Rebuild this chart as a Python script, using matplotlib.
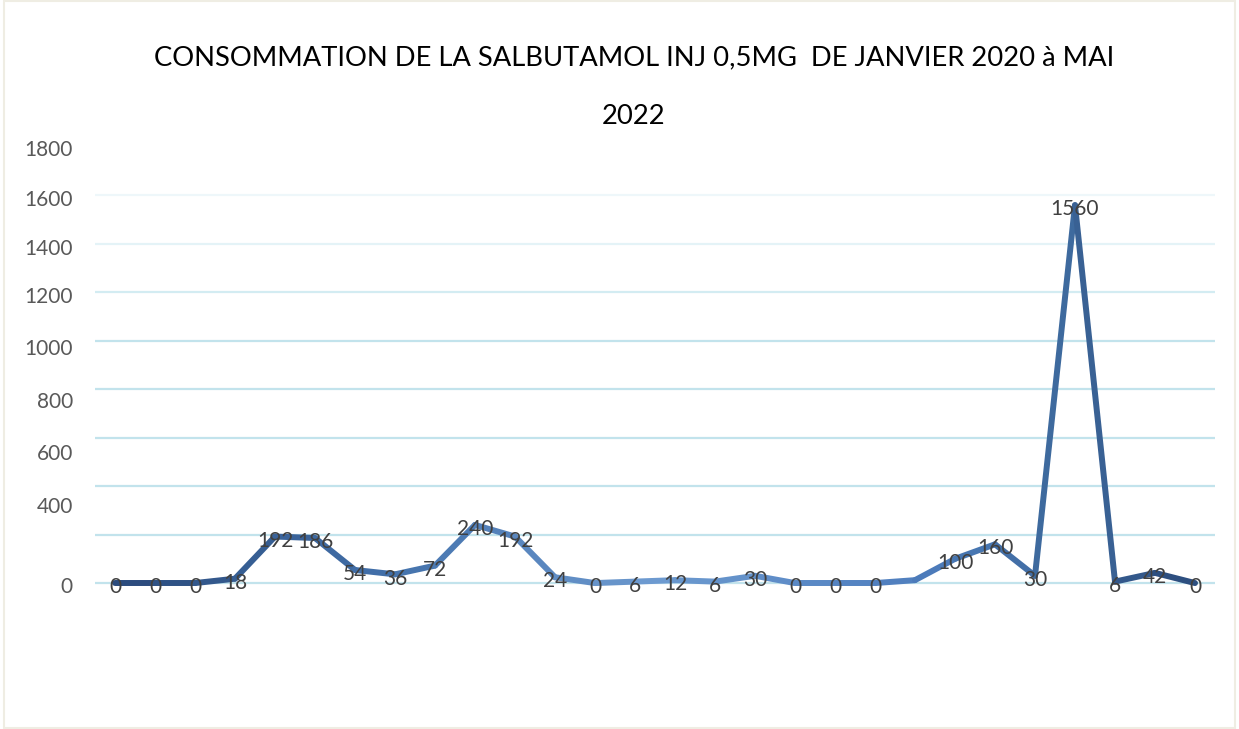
import numpy as np
import matplotlib.pyplot as plt
from matplotlib.collections import LineCollection
from matplotlib.colors import LinearSegmentedColormap
from matplotlib.patches import Rectangle

# données (janvier 2020 -> mai 2022)
valeurs = [0, 0, 0, 18, 192, 186, 54, 36, 72, 240, 192, 24, 0, 6, 12, 6, 30,
           0, 0, 0, 12, 100, 160, 30, 1560, 6, 42, 0]
etiquettes = ['0', '0', '0', '18', '192', '186', '54', '36', '72', '240', '192', '24',
              '0', '6', '12', '6', '30', '0', '0', '0', '', '100', '160', '30',
              '1560', '6', '42', '0']
grille = [0, 200, 400, 600, 800, 1000, 1200, 1400, 1600]
ytick_texte = ['0', '400', '600', '800', '1000', '1200', '1400', '1600', '1800']
titre = "CONSOMMATION DE LA SALBUTAMOL INJ 0,5MG  DE JANVIER 2020 à MAI\n\n2022"

plt.rcParams['font.family'] = ['Lato', 'DejaVu Sans']

fig = plt.figure(figsize=(12.39, 7.29), dpi=100)
ax = fig.add_axes([95 / 1239, 1 - 585 / 729, 1120 / 1239, 438 / 729])

x = np.arange(len(valeurs))
y = np.array(valeurs, dtype=float)

# lignes de grille (plus pâles en haut)
couleurs_grille = ['#C2E3EC'] * 6 + ['#D3ECF2', '#E4F3F7', '#EEF7FA']
for g, c in zip(grille, couleurs_grille):
    ax.axhline(g, color=c, lw=1.6, zorder=0)

# ligne avec dégradé de bleu
cmap = LinearSegmentedColormap.from_list('bleus', [
    (0.0, '#2A4A7B'), (0.25, '#4270AA'), (0.5, '#6D9AD0'),
    (0.75, '#4D7DBD'), (0.88, '#3D689C'), (1.0, '#2B4B7C')])
pts = np.column_stack([x, y]).reshape(-1, 1, 2)
segs = np.concatenate([pts[:-1], pts[1:]], axis=1)
t = (x[:-1] + 0.5) / (len(x) - 1)
lc = LineCollection(segs, colors=cmap(t), linewidths=4.3, capstyle='round',
                    joinstyle='round', clip_on=False, zorder=2)
ax.add_collection(lc)

# étiquettes de données
for xi, yi, lab in zip(x, y, etiquettes):
    ax.annotate(lab, (xi, yi), xytext=(0, -3), textcoords='offset points',
                ha='center', va='center', fontsize=15, color='#404040', zorder=3)

ax.set_xlim(-0.5, len(valeurs) - 0.5)
ax.set_ylim(0, 1800)
# positions des libellés de l'axe y (décalés comme dans l'original)
ax.set_yticks([-8, 324, 542, 756, 973, 1191, 1388, 1589, 1795], ytick_texte)
ax.tick_params(axis='y', length=0, pad=16, labelsize=15, labelcolor='#595959')
ax.set_xticks([])
for s in ax.spines.values():
    s.set_visible(False)

fig.text(634 / 1239, 1 - 87 / 729, titre, ha='center', va='center',
         fontsize=19.75, color='#000000', linespacing=1.2)

fig.patches.append(Rectangle((0.003, 0.002), 0.994, 0.996, transform=fig.transFigure,
                             fill=False, edgecolor='#EFEDE3', lw=1.5))

fig.savefig('out.png', dpi=100)
